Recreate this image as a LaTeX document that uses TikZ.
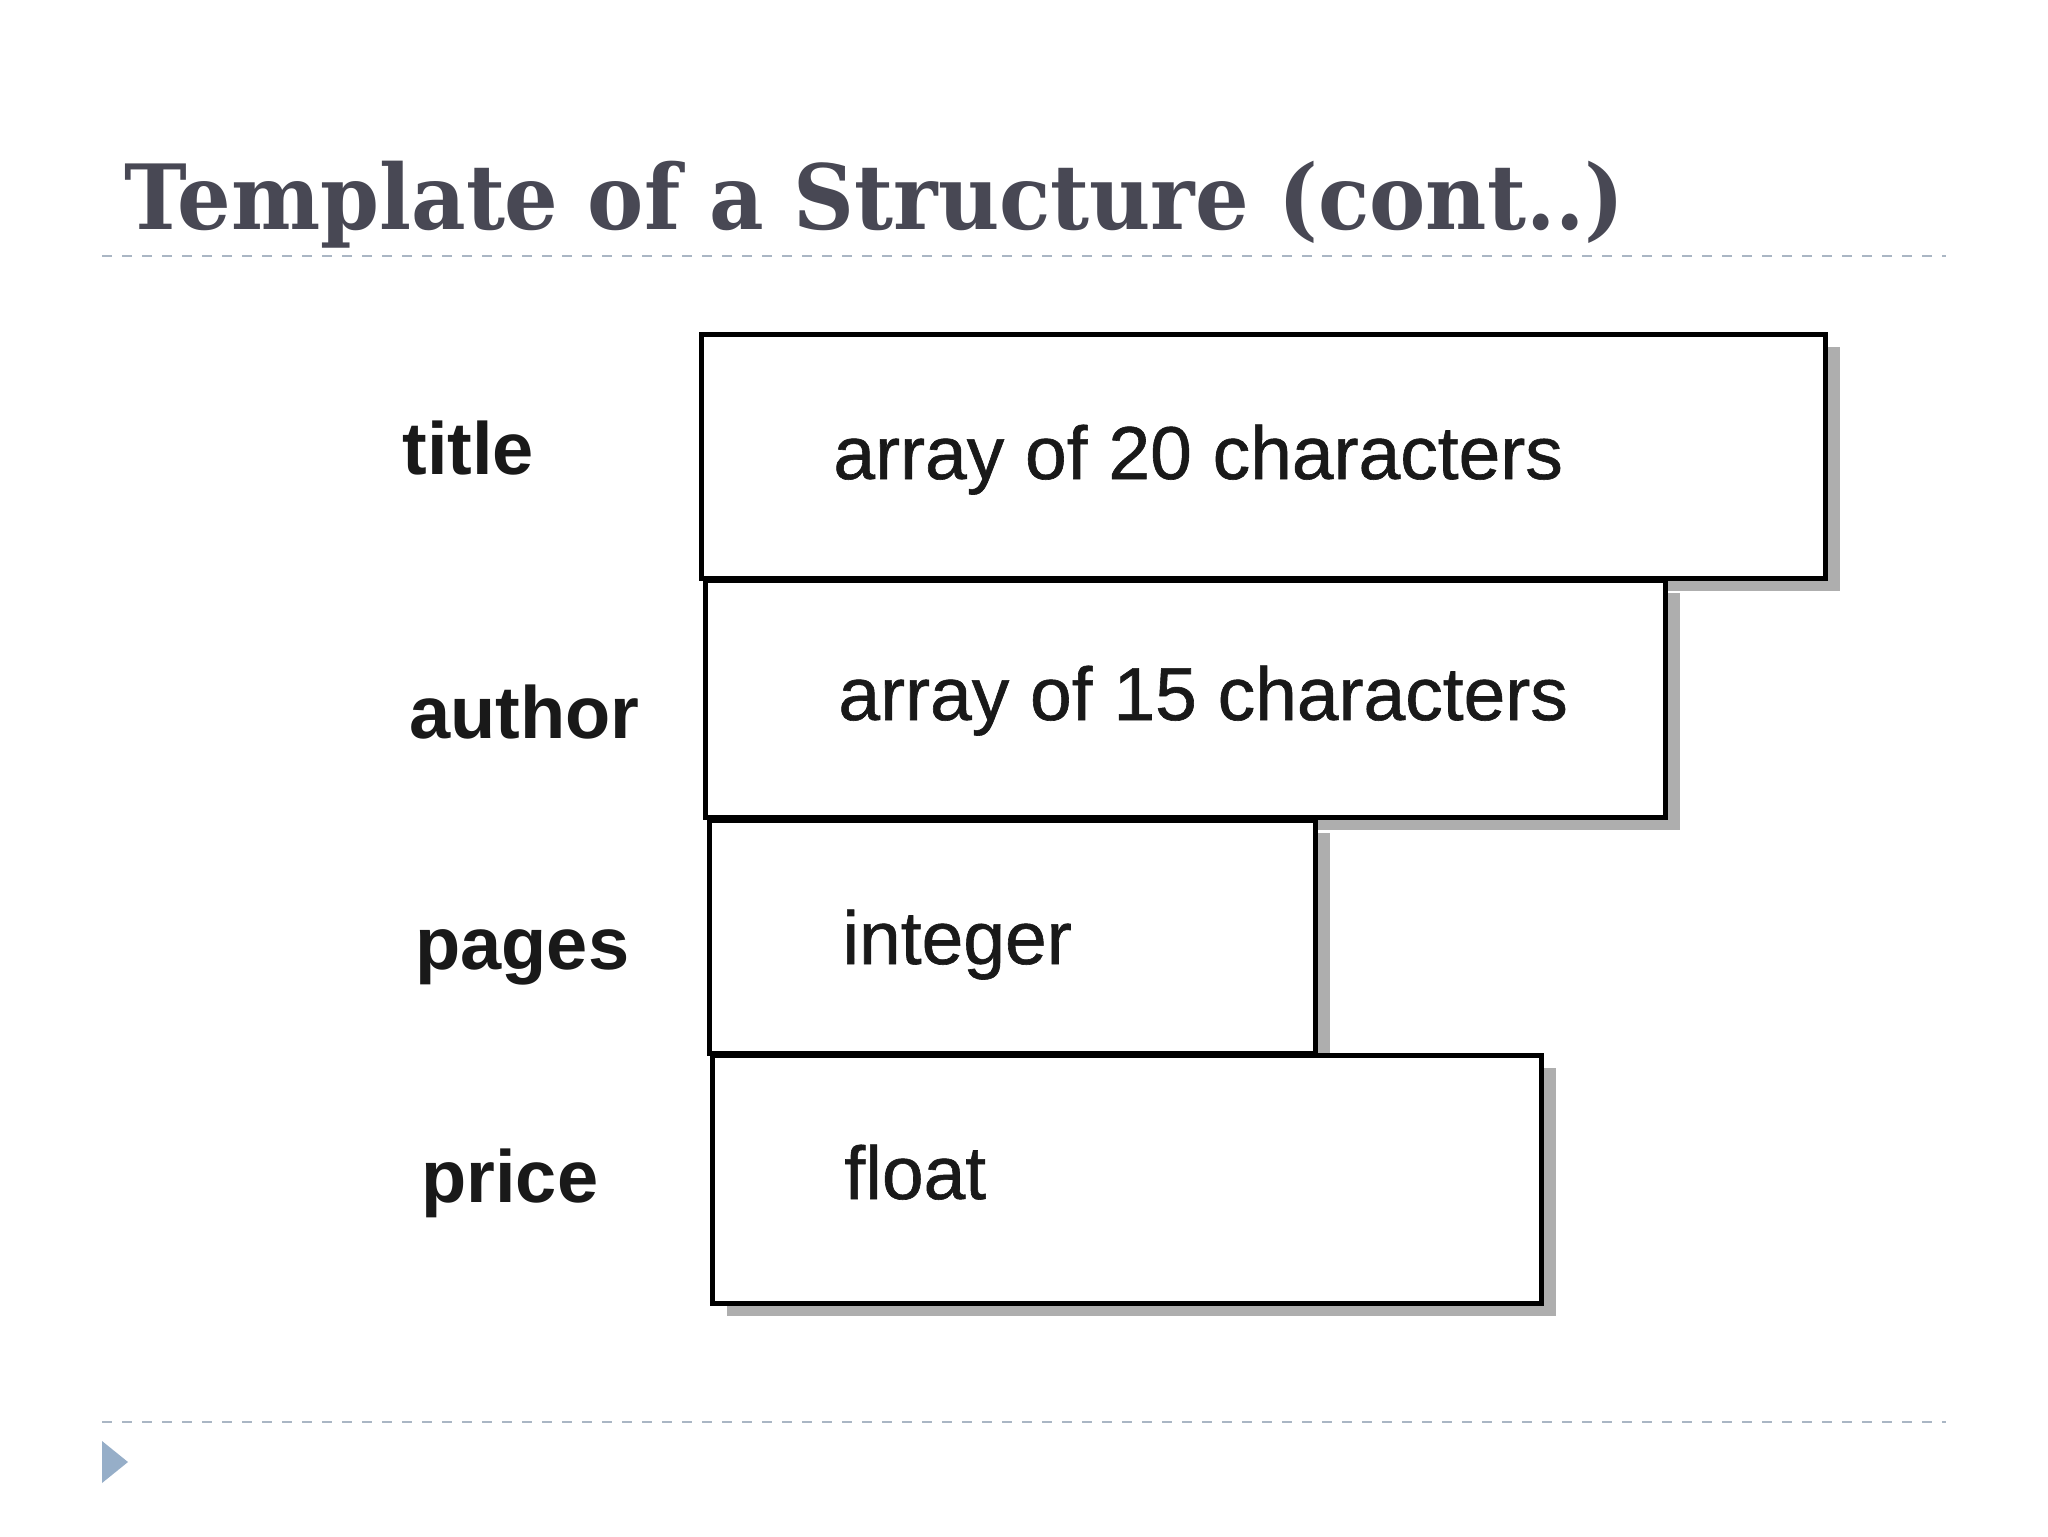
\documentclass[tikz,border=0pt]{standalone}
\usepackage{fontspec}
\setmainfont{Liberation Sans}
\newfontfamily\titlefont{DejaVu Serif}
\newfontfamily\boxfont[FakeBold=0.8]{Liberation Sans}
\usetikzlibrary{shadows}
\definecolor{titlegray}{RGB}{72,72,84}
\definecolor{rulegray}{RGB}{170,182,196}
\definecolor{bulletblue}{RGB}{150,174,200}
\tikzset{
  fieldbox/.style={draw=black, line width=2.6pt, fill=white, rectangle, inner sep=0pt, anchor=north west,
    drop shadow={shadow xshift=7pt, shadow yshift=-6pt, fill=black!70, opacity=0.45}},
  fieldtext/.style={anchor=base west, inner sep=0pt, font=\boxfont\fontsize{37.5}{44}\selectfont, text=black!90},
  fieldlabel/.style={anchor=base west, inner sep=0pt, font=\fontsize{37}{44}\selectfont\bfseries, text=black!90},
  rule/.style={draw=rulegray, line width=1.4pt, dash pattern=on 5pt off 5pt},
}
\begin{document}
\begin{tikzpicture}[x=0.5pt, y=-0.5pt]
\useasboundingbox[fill=white] (0,0) rectangle (2048,1536);
% title
\node[anchor=base west, inner sep=0pt, text=titlegray, font=\titlefont\bfseries\fontsize{45}{54}\selectfont] (title) at (124,229) {\scalebox{0.937}[1]{Template of a Structure (cont..)}};
% rules
\coordinate (r1a) at (102,256);
\coordinate (r1b) at (1946,256);
\coordinate (r2a) at (102,1422);
\coordinate (r2b) at (1946,1422);
\draw[rule] (r1a) -- (r1b);
\draw[rule] (r2a) -- (r2b);
% bullet triangle
\fill[bulletblue] (102,1441) -- (128,1462) -- (102,1483) -- cycle;
% boxes
\node[fieldbox, minimum width=562pt, minimum height=122pt] (b1) at (699,332) {};
\node[fieldbox, minimum width=480pt, minimum height=118.5pt] (b2) at (703,578) {};
\node[fieldbox, minimum width=303pt, minimum height=116.5pt] (b3) at (707,818) {};
\node[fieldbox, minimum width=414.5pt, minimum height=124pt] (b4) at (710,1053) {};
% box texts
\node[fieldtext] (t1) at (833,479) {array of 20 characters};
\node[fieldtext] (t2) at (838,720) {array of 15 characters};
\node[fieldtext] (t3) at (842,964) {integer};
\node[fieldtext] (t4) at (844,1199) {float};
% labels
\node[fieldlabel] (l1) at (402,474) {title};
\node[fieldlabel] (l2) at (409,738) {author};
\node[fieldlabel] (l3) at (415,969) {pages};
\node[fieldlabel] (l4) at (421,1202) {price};
\end{tikzpicture}
\end{document}
